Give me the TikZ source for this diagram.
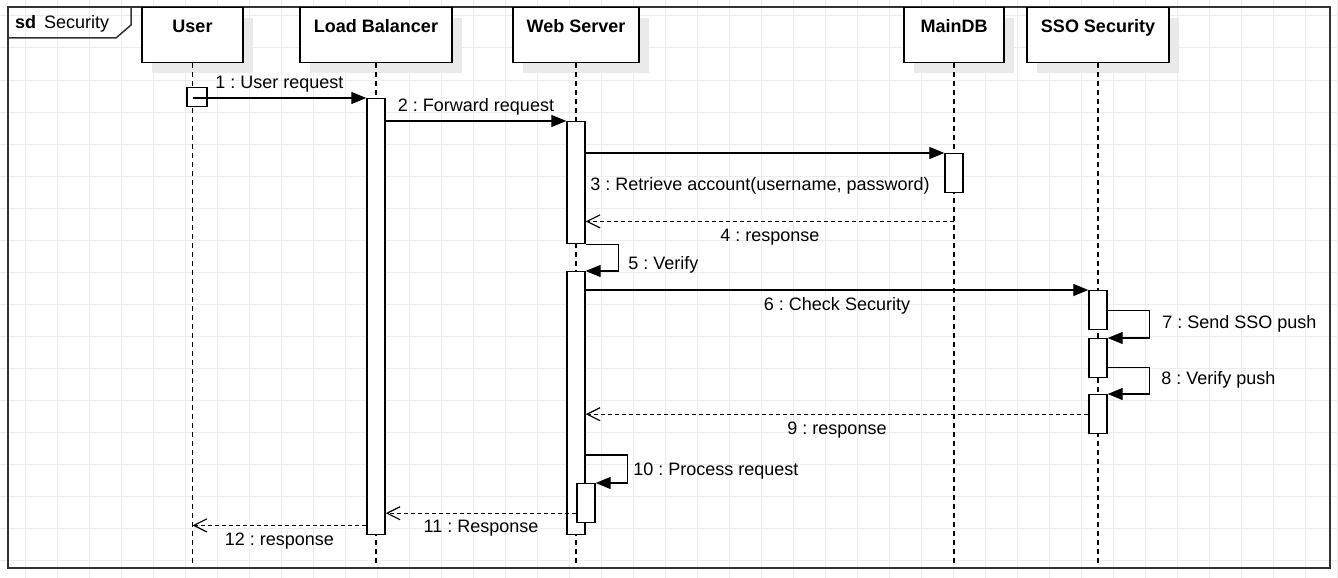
\documentclass[tikz,border=0pt]{standalone}
\usepackage{fontspec}
\setmainfont{Liberation Sans}
\usepackage{tikz}
\usetikzlibrary{shapes,arrows.meta,shadows}
\definecolor{gridGray}{RGB}{236,236,236}
\definecolor{frameGray}{RGB}{51,51,51}
\definecolor{shadowGray}{RGB}{234,234,234}
\frenchspacing

\begin{document}
\begin{tikzpicture}[x=1pt, y=-1pt, line join=miter]%
  \tikzset{call arrow/.style={draw,line width=1.3pt,-{Triangle[length=15pt,width=12pt]}},
    reply arrow/.style={draw,line width=1.2pt,dash pattern=on 4pt off 3pt,-{Straight Barb[length=13pt,width=13pt,line width=1.2pt]}},
    life line/.style={draw,line width=1.2pt,dash pattern=on 5pt off 4pt},
    grid line/.style={draw,gridGray,line width=1pt},
    head/.style={draw,fill=white,line width=1.4pt,anchor=north,minimum height=55pt,inner sep=0pt,
      text height=25pt,text depth=30pt,font=\fontsize{18}{20}\selectfont\bfseries,
      drop shadow={shadow xshift=10pt,shadow yshift=-10pt,fill=shadowGray,opacity=1}},
    act/.style={draw,fill=white,line width=1.4pt,anchor=north,minimum width=18pt,inner sep=0pt},
    msg/.style={inner sep=0pt,text height=13pt,text depth=0pt}}
  \tikzstyle{every node}=[font=\fontsize{18}{20}\selectfont]

  \useasboundingbox[fill=white] (0,0) rectangle (1338,578);
  \foreach \gx in {25,57,...,1337} \path[grid line] (\gx,0) -- (\gx,578);
  \foreach \gy in {16,48,...,576} \path[grid line] (0,\gy) -- (1338,\gy);

  % frame
  \draw[frameGray,line width=2.5pt] (8,7) rectangle (1330,568);
  \draw[frameGray,line width=1.5pt] (8,7) -| (131,25) -- (116,38) -- (8,38);
  \node[anchor=base west,inner sep=0pt] (sd) at (15,29) {\textbf{sd}\, Security};

  \node[head,minimum width=101pt] (User) at (192.5,7) {User};
  \node[head,minimum width=152pt] (LB) at (376,7) {Load Balancer};
  \node[head,minimum width=126pt] (WS) at (576,7) {Web Server};
  \node[head,minimum width=100pt] (DB) at (954,7) {MainDB};
  \node[head,minimum width=142pt] (SSO) at (1098,7) {SSO Security};

  \coordinate (end) at (0,564);
  \foreach \who in {User,LB,WS,DB,SSO}
    \path[life line] (\who.south) -- (\who.south |- end);

  \node[act,minimum width=20pt,minimum height=19pt] (Ua) at (197,87) {};
  \node[act,minimum height=436pt] (LBa) at (376,98) {};
  \node[act,minimum height=122pt] (WSa) at (576,121) {};
  \node[act,minimum height=263pt] (WSb) at (576,271) {};
  \node[act,minimum height=39pt] (WSc) at (586,483) {};
  \node[act,minimum height=39pt] (DBa) at (954,153) {};
  \node[act,minimum height=39pt] (SSOa) at (1098,290) {};
  \node[act,minimum height=39pt] (SSOb) at (1098,338) {};
  \node[act,minimum height=39pt] (SSOc) at (1098,394) {};

  \path[call arrow] (User.south |- LBa.north) -- node[msg,above=8.5pt] {1 : User request} (LBa.north west);
  \path[call arrow] (LBa.east |- WSa.north) -- node[msg,above=9pt] {2 : Forward request} (WSa.north west);
  \path[call arrow] (WSa.east |- DBa.north) -- node[msg,below=23.5pt,xshift=-5pt] {3 : Retrieve account(username, password)} (DBa.north west);
  \coordinate (r4) at ([yshift=-28pt]DBa.south);
  \path[reply arrow] (r4) -- node[msg,below=6pt] {4 : response} (WSa.east |- r4);
  \path[call arrow] (WSa.south east) -- ++(33,0) |- node[msg,pos=0.25,right=9pt,yshift=-5pt] {5 : Verify} (WSb.north east);
  \path[call arrow] (WSb.east |- SSOa.north) -- node[msg,below=7pt] {6 : Check Security} (SSOa.north west);
  \path[call arrow] (SSOa.east) -- ++(42,0) |- node[msg,pos=0.25,right=12pt,yshift=2pt] {7 : Send SSO push} (SSOb.north east);
  \path[call arrow] ([yshift=11pt]SSOb.south east) -- ++(42,0) |- node[msg,pos=0.25,right=11pt,yshift=3pt] {8 : Verify push} (SSOc.north east);
  \path[reply arrow] (SSOc.west) -- node[msg,below=6.5pt] {9 : response} (WSb.east |- SSOc.west);
  \coordinate (p10) at ([yshift=28pt]WSc.north east);
  \path[call arrow] (WSb.east |- p10) -- ++(42,0) |- node[msg,pos=0.25,right=5pt] {10 : Process request} (WSc.north east);
  \coordinate (r11) at ([yshift=-10pt]WSc.west);
  \path[reply arrow] (r11) -- node[msg,below=6pt] {11 : Response} (LBa.east |- r11);
  \coordinate (r12) at ([yshift=10pt]LBa.south west);
  \path[reply arrow] (r12) -- node[msg,below=6.5pt] {12 : response} (User.south |- r12);
\end{tikzpicture}
\end{document}
